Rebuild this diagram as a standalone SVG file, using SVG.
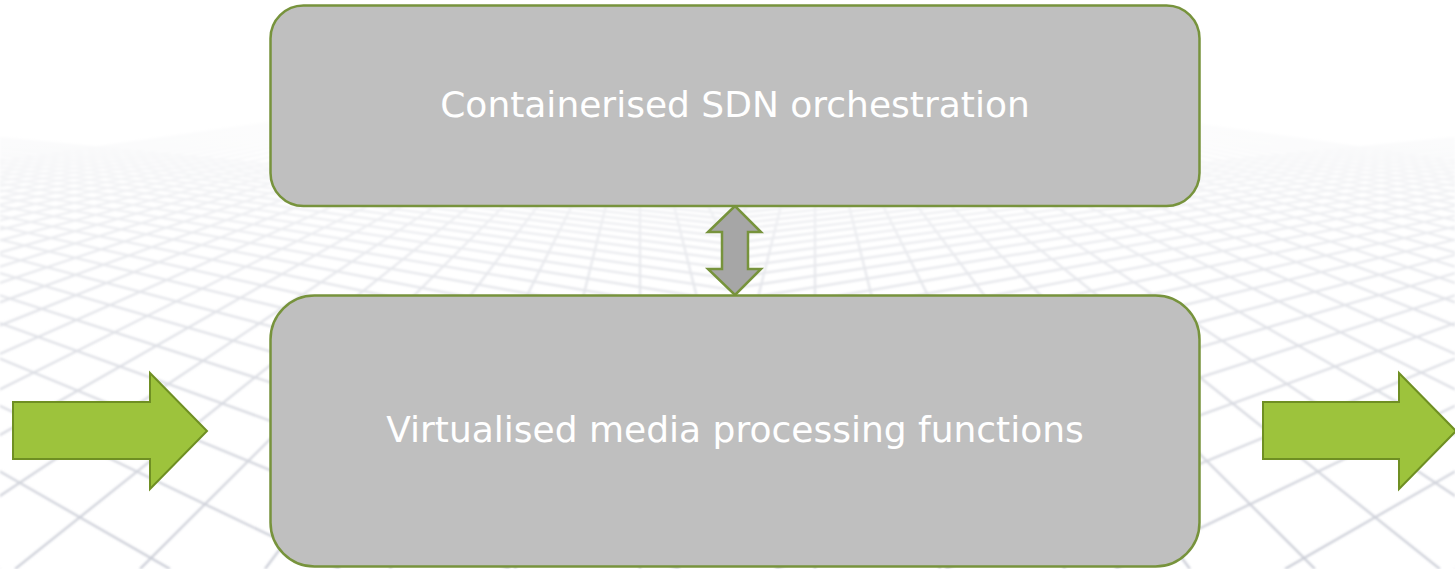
<svg xmlns="http://www.w3.org/2000/svg" xmlns:xlink="http://www.w3.org/1999/xlink" width="1455" height="569" viewBox="0 0 1455 569">
  <style>
    .box { fill: #bfbfbf; stroke: #77933c; stroke-width: 2.5; }
    .label { font-family: "DejaVu Sans", Verdana, sans-serif; font-size: 36px; fill: #ffffff; text-anchor: middle; }
    .flow { fill: #9dc33c; stroke: #6f8f23; stroke-width: 2; stroke-linejoin: miter; }
    .link { fill: #a6a6a6; stroke: #77933c; stroke-width: 2.5; stroke-linejoin: miter; }
    .grid { fill: none; stroke: #c6c9d3; stroke-width: 2.2; }
  </style>
  <defs>
    <clipPath id="leftHalf">
      <rect x="0" y="0" width="727.5" height="569"/>
    </clipPath>
    <filter id="soft" filterUnits="userSpaceOnUse" x="0" y="0" width="1455" height="569">
      <feGaussianBlur stdDeviation="1"/>
    </filter>
    <linearGradient id="haze" gradientUnits="userSpaceOnUse" x1="0" y1="0" x2="0" y2="569">
      <stop offset="0" stop-color="#ffffff" stop-opacity="1"/>
      <stop offset="0.175" stop-color="#ffffff" stop-opacity="1"/>
      <stop offset="0.25" stop-color="#ffffff" stop-opacity="0.92"/>
      <stop offset="0.35" stop-color="#ffffff" stop-opacity="0.74"/>
      <stop offset="0.53" stop-color="#ffffff" stop-opacity="0.5"/>
      <stop offset="0.8" stop-color="#ffffff" stop-opacity="0.24"/>
      <stop offset="1" stop-color="#ffffff" stop-opacity="0.06"/>
    </linearGradient>
    <!-- one half of the perspective floor; the other half is its mirror image -->
    <g id="floorHalf" clip-path="url(#leftHalf)">
      <path class="grid" d="
        M-700 70L0 569 M-700 70L170 569 M-700 70L340 569 M-700 70L510 569 M-700 70L680 569
        M-700 70L850 569 M-700 70L1020 569 M-700 70L1190 569 M-700 70L1360 569 M-700 70L1530 569
        M-700 70L1700 569 M-700 70L1870 569 M-700 70L2040 569 M-700 70L2210 569 M-700 70L2380 569
        M-700 70L2550 569 M-700 70L2720 569 M-700 70L2890 569 M-700 70L3060 569 M-700 70L3230 569
        M-700 70L3400 569 M-700 70L3570 569 M-700 70L3740 569 M-700 70L3910 569 M-700 70L4080 569
        M-700 70L4250 569 M-700 70L4420 569"/>
      <path class="grid" d="
        M640 70L-2860 569 M640 70L-2735 569 M640 70L-2610 569 M640 70L-2485 569 M640 70L-2360 569
        M640 70L-2235 569 M640 70L-2110 569 M640 70L-1985 569 M640 70L-1860 569 M640 70L-1735 569
        M640 70L-1610 569 M640 70L-1485 569 M640 70L-1360 569 M640 70L-1235 569 M640 70L-1110 569
        M640 70L-985 569 M640 70L-860 569 M640 70L-735 569 M640 70L-610 569 M640 70L-485 569
        M640 70L-360 569 M640 70L-235 569 M640 70L-110 569 M640 70L15 569 M640 70L140 569
        M640 70L265 569 M640 70L390 569 M640 70L515 569 M640 70L640 569 M640 70L765 569
        M640 70L890 569 M640 70L1015 569 M640 70L1140 569 M640 70L1265 569"/>
    </g>
  </defs>

  <!-- background: white page with a receding grid floor -->
  <g id="backdrop">
    <rect x="0" y="0" width="1455" height="569" fill="#ffffff"/>
    <g filter="url(#soft)">
      <use xlink:href="#floorHalf"/>
      <use xlink:href="#floorHalf" transform="matrix(-1 0 0 1 1455 0)"/>
    </g>
    <rect x="0" y="0" width="1455" height="569" fill="url(#haze)"/>
  </g>

  <!-- connectors -->
  <g id="connectors">
    <polygon id="link-orchestration-media" class="link" points="735,206 708,232 722,232 722,269 708,269 735,295 761,269 748,269 748,232 761,232"/>
    <polygon id="flow-in" class="flow" points="13,402 150,402 150,373 207,431 150,489 150,459 13,459"/>
    <polygon id="flow-out" class="flow" points="1263,402 1399,402 1399,373 1456,431 1399,489 1399,459 1263,459"/>
  </g>

  <g id="node-orchestration">
    <rect class="box" x="270.5" y="5.5" width="929" height="200.5" rx="33" ry="33"/>
    <text class="label" x="735" y="117">Containerised SDN orchestration</text>
  </g>

  <g id="node-media">
    <rect class="box" x="270.5" y="295.5" width="929" height="271" rx="44" ry="44"/>
    <text class="label" x="735" y="442">Virtualised media processing functions</text>
  </g>
</svg>
